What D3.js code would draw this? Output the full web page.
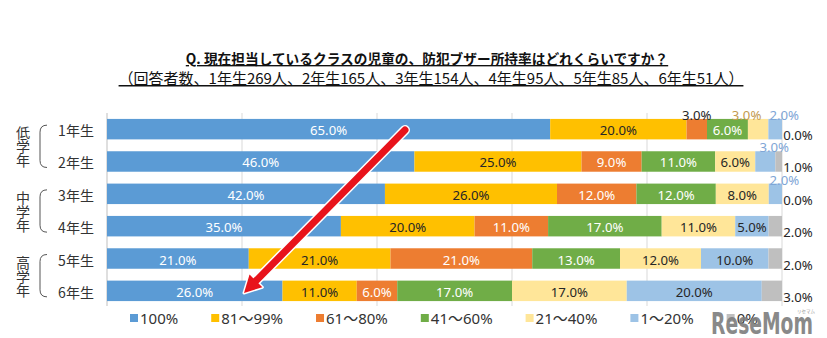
<!DOCTYPE html>
<html><head><meta charset="utf-8">
<script src="https://cdn.jsdelivr.net/npm/d3@7/dist/d3.min.js"></script>
<style>
html,body{margin:0;padding:0;background:#fff;}
text{font-family:"Noto Sans CJK JP","Noto Sans",sans-serif;}
.num{font-family:"Noto Sans","Noto Sans CJK JP",sans-serif;}
</style></head>
<body>
<svg id="c" width="827" height="338"></svg>
<script>
// ---- data ----
const categories = ["1年生","2年生","3年生","4年生","5年生","6年生"];
const seriesNames = ["100%","81～99%","61～80%","41～60%","21～40%","1～20%","0%"];
const s100 = [65,46,42,35,21,26];
const s81  = [20,25,26,20,21,11];
const s61  = [3,9,12,11,21,6];
const s41  = [6,11,12,17,13,17];
const s21  = [3,6,8,11,12,17];
const s1   = [2,3,2,5,10,20];
const s0   = [0,1,0,2,2,3];
const groups = ["低学年","中学年","高学年"];
const xTicks = [0,0.2,0.4,0.6,0.8,1];
const title = "Q. 現在担当しているクラスの児童の、防犯ブザー所持率はどれくらいですか？";
const subtitle = "（回答者数、1年生269人、2年生165人、3年生154人、4年生95人、5年生85人、6年生51人）";

const colors = ["#5B9BD5","#FFC000","#ED7D31","#70AD47","#FFE699","#9DC3E6","#BFBFBF"];
const insideText = ["#ffffff","#262626","#ffffff","#ffffff","#262626","#262626","#262626"];
const outsideText = ["#262626","#262626","#262626","#262626","#C39A4E","#7FA6D6","#262626"];

const seriesVals = [s100,s81,s61,s41,s21,s1,s0];
const rows = categories.map((c,i)=>{
  const o = {cat:c};
  seriesNames.forEach((k,j)=>o[k]=seriesVals[j][i]);
  return o;
});

const svg = d3.select("#c");
const x = d3.scaleLinear().domain([0,1]).range([107,782]);
const y = d3.scaleBand().domain(categories).range([113,307]).paddingInner(0.367).paddingOuter(0.183);

// title
svg.append("text").attr("x",427).attr("y",64).attr("text-anchor","middle")
  .attr("font-size",13.7).attr("font-weight","bold").attr("fill","#111")
  .attr("text-decoration","underline").text(title);
svg.append("text").attr("x",431).attr("y",84).attr("text-anchor","middle")
  .attr("font-size",15).attr("fill","#111")
  .attr("text-decoration","underline").text(subtitle);

// gridlines
svg.append("g").selectAll("line").data(xTicks).join("line")
  .attr("x1",d=>x(d)).attr("x2",d=>x(d)).attr("y1",113).attr("y2",306)
  .attr("stroke",(d,i)=>i===0?"#BFBFBF":"#D9D9D9").attr("stroke-width",1);

// stack
const stack = d3.stack().keys(seriesNames).offset(d3.stackOffsetExpand);
const stacked = stack(rows);

const gBars = svg.append("g");
stacked.forEach((layer,j)=>{
  gBars.selectAll(null).data(layer).join("rect")
    .attr("x",d=>x(d[0])).attr("width",d=>Math.max(0,x(d[1])-x(d[0])))
    .attr("y",d=>y(d.data.cat)).attr("height",y.bandwidth())
    .attr("fill",colors[j]);
});

// labels
const gLab = svg.append("g").attr("font-size",13.2).attr("class","num");
const lastIdx = seriesNames.length-1;
categories.forEach((cat,i)=>{
  const top = y(cat), mid = top + y.bandwidth()/2;
  const above = [];
  stacked.forEach((layer,j)=>{
    const d = layer[i];
    const v = seriesVals[j][i];
    const label = v.toFixed(1)+"%";
    if(j===lastIdx){
      gLab.append("text").attr("class","num").attr("x",798).attr("y",mid+6).attr("text-anchor","middle")
        .attr("dominant-baseline","central").attr("fill",outsideText[j]).text(label);
    } else if(v<4){
      above.push({j,label,cx:(x(d[0])+x(d[1]))/2});
    } else {
      gLab.append("text").attr("class","num").attr("x",(x(d[0])+x(d[1]))/2).attr("y",mid+1).attr("text-anchor","middle")
        .attr("dominant-baseline","central").attr("fill",insideText[j]).text(label);
    }
  });
  // place above labels right-to-left avoiding overlap
  let prevLeft = Infinity;
  for(let k=above.length-1;k>=0;k--){
    const a = above[k];
    const t = gLab.append("text").attr("class","num").attr("y",top-4).attr("text-anchor","middle")
      .attr("dominant-baseline","central").attr("fill",outsideText[a.j]).text(a.label);
    const w = t.node().getComputedTextLength();
    let cx = (k===above.length-1) ? a.cx+9 : Math.min(a.cx, prevLeft-8-w/2);
    t.attr("x",cx);
    prevLeft = cx - w/2;
  }
});

// category labels
svg.append("g").selectAll("text").data(categories).join("text")
  .attr("x",76).attr("y",d=>y(d)+y.bandwidth()/2+1).attr("text-anchor","middle")
  .attr("dominant-baseline","central").attr("font-size",14).attr("fill","#333").text(d=>d);

// group labels and brackets
groups.forEach((g,gi)=>{
  const c1 = categories[gi*2], c2 = categories[gi*2+1];
  const yTop = y(c1)+y.bandwidth()/2-4, yBot = y(c2)+y.bandwidth()/2+6;
  const yc = (yTop+yBot)/2;
  const chars = g.split("");
  svg.append("g").selectAll("text").data(chars).join("text")
    .attr("x",23).attr("y",(d,k)=>yc+(k-1)*14).attr("text-anchor","middle")
    .attr("dominant-baseline","central").attr("font-size",14).attr("fill","#333").text(d=>d);
  svg.append("path")
    .attr("d",`M47,${yTop} Q40,${yTop} 40,${yTop+7} L40,${yBot-7} Q40,${yBot} 47,${yBot}`)
    .attr("fill","none").attr("stroke","#555").attr("stroke-width",1);
});

// legend
const gLeg = svg.append("g").attr("font-size",15).attr("class","num");
let lx = 130;
seriesNames.forEach((n,j)=>{
  gLeg.append("rect").attr("x",lx).attr("y",314).attr("width",8).attr("height",8).attr("fill",colors[j]);
  const t = gLeg.append("text").attr("class","num").attr("x",lx+10).attr("y",318).attr("dominant-baseline","central")
    .attr("fill","#333").text(n);
  lx += 10 + t.node().getComputedTextLength() + 33;
});

// watermark
svg.append("text").attr("x",711).attr("y",334).attr("font-size",30).attr("font-weight","bold")
  .attr("fill","#7f7f7f").attr("opacity",0.92).attr("textLength",102).attr("lengthAdjust","spacingAndGlyphs")
  .style("font-family","'DejaVu Sans Condensed','DejaVu Sans',sans-serif").text("ReseMom");
svg.append("text").attr("x",797).attr("y",313).attr("font-size",4.5).attr("fill","#999").text("リセマム");

// red arrow
const p0=[405,130], tip=[244,293];
const dx=tip[0]-p0[0], dy=tip[1]-p0[1], L=Math.hypot(dx,dy);
const ux=dx/L, uy=dy/L, px=-uy, py=ux;
const hl=17, hw=9;
const base=[tip[0]-hl*ux, tip[1]-hl*uy];
const head=`M${tip[0]},${tip[1]} L${base[0]+hw*px},${base[1]+hw*py} L${base[0]-hw*px},${base[1]-hw*py} Z`;
const ga = svg.append("g");
ga.append("line").attr("x1",p0[0]).attr("y1",p0[1]).attr("x2",base[0]+2*ux).attr("y2",base[1]+2*uy)
  .attr("stroke","#fff").attr("stroke-width",10).attr("stroke-linecap","round");
ga.append("path").attr("d",head).attr("fill","#fff").attr("stroke","#fff").attr("stroke-width",3).attr("stroke-linejoin","round");
ga.append("line").attr("x1",p0[0]).attr("y1",p0[1]).attr("x2",base[0]+2*ux).attr("y2",base[1]+2*uy)
  .attr("stroke","#E8131B").attr("stroke-width",7).attr("stroke-linecap","round");
ga.append("path").attr("d",head).attr("fill","#E8131B");
</script>
</body></html>
